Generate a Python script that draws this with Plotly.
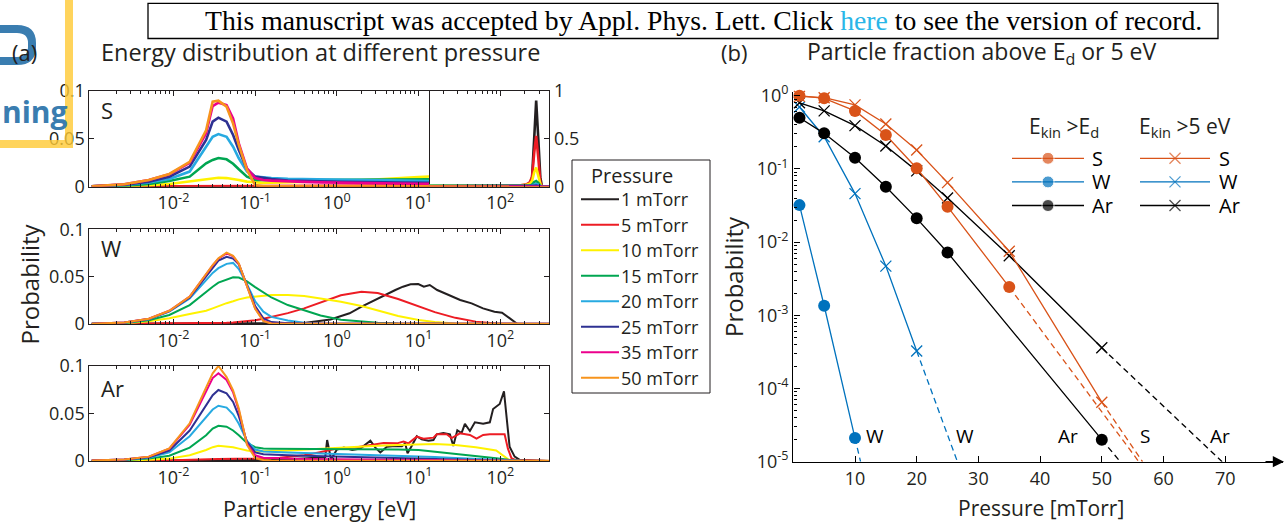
import plotly.graph_objects as go

W, H = 1287, 523
FONT = "Open Sans"
TXT = "#231F20"
AX = "#231F20"

# ---------------- (a) energy grid (eV) for the smooth curves ----------------
E_GRID = [0.001, 0.0025, 0.005, 0.0089, 0.0158, 0.0251, 0.0302, 0.0355, 0.0447, 0.0537,
          0.0631, 0.0794, 0.1, 0.126, 0.158, 0.251, 0.398, 0.631, 1.12, 2.0,
          3.16, 5.62, 10, 15.8, 28.2, 50.1, 89.1, 126, 158, 200, 400]

PRESSURES = ["1 mTorr", "5 mTorr", "10 mTorr", "15 mTorr", "20 mTorr", "25 mTorr", "35 mTorr", "50 mTorr"]
COLORS = ["#231F20", "#ED1C24", "#FFF200", "#00A651", "#27AAE1", "#2E3192", "#EC008C", "#F7941D"]

# S, low-energy part (y 0..0.1)
S_1 = [0, 0, 0, 0, 0, 0, 0, 0, 0, 0, 0, 0, 0, 0, 0, 0, 0, 0, 0, 0, 0, 0, 0.0002, 0.0003, 0.0003, 0.0003, 0.0003, 0.0003, 0.0003, 0.0003, 0.0003]
S_5 = [0.0002, 0.0003, 0.0005, 0.0006, 0.0008, 0.001, 0.001, 0.001, 0.001, 0.001, 0.001, 0.001, 0.001, 0.001, 0.001, 0.001, 0.001, 0.001, 0.0012, 0.0013, 0.0014, 0.0015, 0.0016, 0.0017, 0.0018, 0.0018, 0.0018, 0.0018, 0.0018, 0.0018, 0.0018]
S_10 = [0.0001, 0.0006, 0.0015, 0.0028, 0.0053, 0.0077, 0.0087, 0.0094, 0.009, 0.0081, 0.007, 0.0053, 0.0043, 0.004, 0.0042, 0.0045, 0.005, 0.0055, 0.006, 0.0068, 0.0075, 0.0085, 0.0100, 0.011, 0.011, 0.011, 0.012, 0.013, 0.015, 0.016, 0.016]
S_15 = [0.0003, 0.0011, 0.0028, 0.006, 0.0105, 0.0244, 0.028, 0.030, 0.0286, 0.024, 0.0182, 0.0105, 0.007, 0.0068, 0.0067, 0.0068, 0.007, 0.0072, 0.0075, 0.0078, 0.0082, 0.0086, 0.009, 0.0092, 0.009, 0.008, 0.007, 0.006, 0.006, 0.006, 0.006]
S_20 = [0.0004, 0.0018, 0.0043, 0.0081, 0.0158, 0.0418, 0.0522, 0.055, 0.0522, 0.0418, 0.0297, 0.0158, 0.0105, 0.0098, 0.009, 0.0082, 0.0078, 0.0074, 0.0072, 0.007, 0.007, 0.0069, 0.0068, 0.0068, 0.006, 0.005, 0.004, 0.004, 0.004, 0.004, 0.004]
S_25 = [0.0005, 0.0022, 0.0053, 0.0105, 0.021, 0.0488, 0.068, 0.0721, 0.068, 0.054, 0.0384, 0.0182, 0.0105, 0.009, 0.008, 0.0065, 0.0058, 0.0052, 0.005, 0.0048, 0.0046, 0.0045, 0.0044, 0.0044, 0.004, 0.003, 0.003, 0.003, 0.003, 0.003, 0.003]
S_35 = [0.0004, 0.0025, 0.007, 0.013, 0.025, 0.0558, 0.0843, 0.0878, 0.0854, 0.0714, 0.0453, 0.0192, 0.009, 0.007, 0.0064, 0.0055, 0.005, 0.0045, 0.004, 0.0038, 0.0035, 0.0033, 0.003, 0.003, 0.002, 0.002, 0.002, 0.002, 0.002, 0.002, 0.002]
S_50 = [0.0004, 0.0025, 0.007, 0.0133, 0.026, 0.059, 0.0888, 0.0899, 0.0836, 0.066, 0.0436, 0.0175, 0.0018, 0.0004, 0.0003, 0.0003, 0.0003, 0.0003, 0.0003, 0.0003, 0.0003, 0.0003, 0.0003, 0.0003, 0.0003, 0.0003, 0.0003, 0.0003, 0.0003, 0.0003, 0.0003]

# S, high-energy part (y 0..1)
E_S_HIGH = [12.6, 31.6, 79.4, 126, 178, 209, 229, 245, 260, 275, 292, 309, 324, 400]
SH_1 = [0.0005, 0.0005, 0.0008, 0.001, 0.002, 0.004, 0.01, 0.1, 0.5, 0.9, 0.5, 0.1, 0, 0]
SH_5 = [0.0018, 0.002, 0.004, 0.008, 0.015, 0.025, 0.045, 0.1, 0.35, 0.53, 0.3, 0.05, 0, 0]
SH_10 = [0.011, 0.011, 0.012, 0.013, 0.015, 0.02, 0.03, 0.06, 0.15, 0.2, 0.12, 0.03, 0, 0]
SH_15 = [0.009, 0.008, 0.007, 0.006, 0.006, 0.007, 0.01, 0.02, 0.05, 0.06, 0.04, 0.01, 0, 0]
SH_20 = [0.007, 0.006, 0.005, 0.004, 0.004, 0.005, 0.007, 0.012, 0.025, 0.03, 0.02, 0.005, 0, 0]
SH_25 = [0.0045, 0.004, 0.003, 0.003, 0.003, 0.003, 0.004, 0.006, 0.01, 0.012, 0.008, 0.002, 0, 0]
SH_35 = [0.003, 0.002, 0.002, 0.002, 0.002, 0.002, 0.002, 0.003, 0.005, 0.006, 0.004, 0.001, 0, 0]
SH_50 = [0.0003, 0.0003, 0.0003, 0.0003, 0.0003, 0.0003, 0.0003, 0.0003, 0.0003, 0.0003, 0.0003, 0.0003, 0, 0]

# W
E_W_1 = [0.001, 0.1, 0.394, 0.836, 1.43, 1.98, 3.38, 5.20, 6.44, 7.98, 9.91, 11.6, 13.7, 16.9, 23.4, 32.3, 44.6, 61.5, 84.9, 105, 131, 162, 400]
W_1 = [0.0002, 0.0004, 0.001, 0.0047, 0.0113, 0.018, 0.0282, 0.0359, 0.0394, 0.0419, 0.0422, 0.0394, 0.0412, 0.0359, 0.0306, 0.0253, 0.0218, 0.0165, 0.013, 0.012, 0.006, 0, 0]
W_5 = [0.0001, 0.0002, 0.0003, 0.0005, 0.0007, 0.0009, 0.001, 0.0011, 0.0012, 0.0017, 0.0022, 0.003, 0.004, 0.0055, 0.0075, 0.0115, 0.0165, 0.0228, 0.0303, 0.034, 0.0328, 0.0264, 0.019, 0.0125, 0.0065, 0.0025, 0.0006, 0.0002, 0, 0, 0]
W_10 = [0.0001, 0.0008, 0.0028, 0.006, 0.0105, 0.014, 0.0165, 0.019, 0.022, 0.024, 0.026, 0.028, 0.029, 0.030, 0.0305, 0.0306, 0.0295, 0.027, 0.0236, 0.019, 0.014, 0.0085, 0.0042, 0.002, 0.0006, 0.0002, 0, 0, 0, 0, 0]
W_15 = [0.0002, 0.001, 0.004, 0.0095, 0.020, 0.0342, 0.0394, 0.0437, 0.0472, 0.0493, 0.049, 0.045, 0.039, 0.033, 0.028, 0.020, 0.0148, 0.009, 0.0045, 0.0025, 0.0014, 0.0006, 0.0002, 0.0001, 0, 0, 0, 0, 0, 0, 0]
W_20 = [0.0003, 0.0013, 0.005, 0.013, 0.027, 0.047, 0.054, 0.059, 0.0635, 0.0645, 0.058, 0.042, 0.024, 0.013, 0.0075, 0.0036, 0.0014, 0.0005, 0.0003, 0.0003, 0.0003, 0.0003, 0.0003, 0.0003, 0.0003, 0.0003, 0.0003, 0.0003, 0.0003, 0.0003, 0.0003]
W_25 = [0.0003, 0.0015, 0.0053, 0.0135, 0.028, 0.051, 0.06, 0.067, 0.071, 0.069, 0.063, 0.041, 0.019, 0.006, 0.002, 0.0008, 0.0003, 0.0003, 0.0003, 0.0003, 0.0003, 0.0003, 0.0003, 0.0003, 0.0003, 0.0003, 0.0003, 0.0003, 0.0003, 0.0003, 0.0003]
W_35 = [0.0003, 0.0015, 0.0055, 0.014, 0.029, 0.053, 0.062, 0.069, 0.0745, 0.0715, 0.0635, 0.04, 0.0165, 0.0035, 0.0006, 0.0003, 0.0003, 0.0003, 0.0003, 0.0003, 0.0003, 0.0003, 0.0003, 0.0003, 0.0003, 0.0003, 0.0003, 0.0003, 0.0003, 0.0003, 0.0003]
W_50 = [0.0003, 0.0015, 0.0055, 0.014, 0.029, 0.0535, 0.0623, 0.0693, 0.0753, 0.072, 0.064, 0.04, 0.016, 0.003, 0.0005, 0.0003, 0.0003, 0.0003, 0.0003, 0.0003, 0.0003, 0.0003, 0.0003, 0.0003, 0.0003, 0.0003, 0.0003, 0.0003, 0.0003, 0.0003, 0.0003]

# Ar
E_AR_1 = [0.001, 0.01, 0.035, 0.1, 0.3, 0.6, 0.72, 0.76, 0.85, 1.0, 1.22, 1.54, 1.94, 2.57, 2.96, 3.40, 4.10, 5.19, 6.25, 6.86,
          7.33, 8.27, 9.51, 10.9, 13.2, 15.2, 16.7, 20.1, 24.2, 26.6, 29.8, 33.6, 36.9, 42.5, 48.9, 61.7, 74.5, 81.7, 98.4, 111,
          130, 150, 173, 400]
AR_1 = [0, 0.0002, 0.0005, 0.001, 0.002, 0.003, 0.004, 0.022, 0.0017, 0.012, 0.014, 0.0115, 0.013, 0.0213, 0.014, 0.009, 0.015, 0.0157, 0.0155, 0.0185,
        0.0081, 0.016, 0.026, 0.0227, 0.0213, 0.022, 0.028, 0.0294, 0.028, 0.0157, 0.0322, 0.0294, 0.039, 0.0315, 0.0406, 0.039, 0.0406, 0.0546, 0.0598, 0.0731,
        0.015, 0.0046, 0.0011, 0]
E_AR_5 = [0.001, 0.01, 0.035, 0.06, 0.1, 0.2, 0.4, 0.6, 0.8, 1.0, 1.61, 2.57, 3.73, 5.43, 6.55, 7.53, 9.51, 11.5, 15.2, 16.7,
          22.1, 25.4, 32.1, 42.5, 51.2, 61.7, 74.5, 113, 124, 137, 157, 400]
AR_5 = [0.0002, 0.0008, 0.002, 0.0022, 0.0025, 0.0035, 0.006, 0.009, 0.011, 0.013, 0.014, 0.0164, 0.019, 0.0185, 0.0203, 0.0185, 0.0255, 0.0234, 0.0245, 0.028,
        0.028, 0.024, 0.029, 0.0273, 0.0234, 0.0273, 0.028, 0.028, 0.013, 0.003, 0.0007, 0]
AR_10 = [0.0001, 0.0005, 0.0012, 0.0025, 0.006, 0.0115, 0.0145, 0.016, 0.0155, 0.0145, 0.013, 0.011, 0.01, 0.01, 0.0105, 0.011, 0.012, 0.013, 0.0145, 0.0155, 0.016, 0.0168, 0.0175, 0.0178, 0.0168, 0.0145, 0.011, 0.0015, 0, 0, 0]
AR_15 = [0.0003, 0.001, 0.0025, 0.0055, 0.014, 0.027, 0.034, 0.037, 0.036, 0.032, 0.027, 0.019, 0.0145, 0.013, 0.0128, 0.0127, 0.0127, 0.0128, 0.013, 0.0128, 0.0125, 0.012, 0.0115, 0.0098, 0.008, 0.0058, 0.0030, 0.0012, 0.0003, 0, 0]
AR_20 = [0.0004, 0.0013, 0.0035, 0.009, 0.026, 0.046, 0.054, 0.058, 0.056, 0.049, 0.039, 0.021, 0.012, 0.01, 0.0095, 0.009, 0.0085, 0.008, 0.0072, 0.0068, 0.0063, 0.0058, 0.005, 0.0042, 0.0032, 0.0022, 0.0011, 0.0004, 0.0001, 0, 0]
AR_25 = [0.0004, 0.0015, 0.004, 0.011, 0.032, 0.058, 0.069, 0.0745, 0.071, 0.062, 0.047, 0.020, 0.009, 0.007, 0.0065, 0.006, 0.0055, 0.005, 0.0045, 0.004, 0.0035, 0.003, 0.0025, 0.002, 0.0015, 0.001, 0.0005, 0.0002, 0, 0, 0]
AR_35 = [0.0004, 0.0017, 0.0046, 0.013, 0.038, 0.074, 0.087, 0.092, 0.085, 0.072, 0.053, 0.018, 0.006, 0.0035, 0.003, 0.0025, 0.0022, 0.002, 0.0019, 0.0017, 0.0015, 0.0013, 0.001, 0.0008, 0.0006, 0.0004, 0.0002, 0.0001, 0, 0, 0]
AR_50 = [0.0004, 0.0017, 0.0046, 0.0133, 0.0396, 0.078, 0.092, 0.0997, 0.088, 0.074, 0.055, 0.017, 0.003, 0.001, 0.0004, 0.0003, 0.0003, 0.0003, 0.0003, 0.0003, 0.0003, 0.0003, 0.0003, 0.0003, 0.0003, 0.0003, 0.0003, 0.0003, 0.0003, 0.0003, 0.0003]

# ---------------- (b) particle fraction vs pressure ----------------
P_S_ED = [1, 5, 10, 15, 20, 25, 35]
S_ED = [1.0, 0.92, 0.62, 0.29, 0.102, 0.0305, 0.00243]
P_S_5EV = [1, 5, 10, 15, 20, 25, 35, 50]
S_5EV = [0.98, 0.94, 0.75, 0.41, 0.181, 0.065, 0.0075, 6.5e-5]
P_W_ED = [1, 5, 10]
W_ED = [0.032, 0.00135, 2.1e-5]
P_W_5EV = [1, 5, 10, 15, 20]
W_5EV = [0.70, 0.275, 0.046, 0.0047, 3.25e-4]
P_AR_ED = [1, 5, 10, 15, 20, 25, 50]
AR_ED = [0.50, 0.306, 0.142, 0.057, 0.0211, 0.0072, 2.0e-5]
P_AR_5EV = [1, 5, 10, 15, 20, 25, 35, 50]
AR_5EV = [0.80, 0.62, 0.39, 0.205, 0.094, 0.040, 0.0065, 3.6e-4]

# dashed extrapolations (start point, end point at 1e-5)
EXT_W_ED_P, EXT_W_ED = [10, 10.9], [2.1e-5, 1e-5]
EXT_W_5EV_P, EXT_W_5EV = [20, 26.6], [3.25e-4, 1e-5]
EXT_AR_ED_P, EXT_AR_ED = [50, 53.0], [2.0e-5, 1e-5]
EXT_S_ED_P, EXT_S_ED = [35, 56.0], [0.00243, 1e-5]
EXT_S_5EV_P, EXT_S_5EV = [50, 56.6], [6.5e-5, 1e-5]
EXT_AR_5EV_P, EXT_AR_5EV = [50, 69.5], [3.6e-4, 1e-5]

END_LABELS = ["W", "W", "Ar", "S", "Ar"]
END_LABEL_P = [13.2, 27.8, 44.5, 57.0, 69.2]

C_S, C_W, C_AR = "#D95319", "#0072BD", "#000000"

# ---------------- helpers ----------------
def fx(p):
    return p / W


def fy(p):
    return 1 - p / H


fig = go.Figure()


def add_line(x, y, color, width, xa, ya, dash=None):
    fig.add_trace(go.Scatter(x=x, y=y, mode="lines", xaxis=xa, yaxis=ya,
                             line=dict(color=color, width=width, dash=dash),
                             showlegend=False, hoverinfo="skip"))


S_LOW = [S_1, S_5, S_10, S_15, S_20, S_25, S_35, S_50]
S_HIGH = [SH_1, SH_5, SH_10, SH_15, SH_20, SH_25, SH_35, SH_50]
W_SET = [(E_W_1, W_1), (E_GRID, W_5), (E_GRID, W_10), (E_GRID, W_15), (E_GRID, W_20), (E_GRID, W_25), (E_GRID, W_35), (E_GRID, W_50)]
AR_SET = [(E_AR_1, AR_1), (E_AR_5, AR_5), (E_GRID, AR_10), (E_GRID, AR_15), (E_GRID, AR_20), (E_GRID, AR_25), (E_GRID, AR_35), (E_GRID, AR_50)]

for i, c in enumerate(COLORS):
    add_line(E_GRID, S_LOW[i], c, 2.6, "x", "y")
for i, c in enumerate(COLORS):
    add_line(E_S_HIGH, S_HIGH[i], c, 2.6, "x2", "y2")
for i, c in enumerate(COLORS):
    add_line(W_SET[i][0], W_SET[i][1], c, 2, "x3", "y3")
for i, c in enumerate(COLORS):
    add_line(AR_SET[i][0], AR_SET[i][1], c, 2, "x4", "y4")


# (b) traces
def add_b(x, y, color, symbol):
    if symbol == "circle":
        mk = dict(symbol="circle", size=12, color=color)
    else:
        mk = dict(symbol="x-thin", size=11, line=dict(color=color, width=1.3), color=color)
    fig.add_trace(go.Scatter(x=x, y=y, mode="lines+markers", xaxis="x5", yaxis="y5",
                             line=dict(color=color, width=1.3), marker=mk, cliponaxis=False,
                             showlegend=False, hoverinfo="skip"))


for (x, y, c) in [(EXT_W_ED_P, EXT_W_ED, C_W), (EXT_W_5EV_P, EXT_W_5EV, C_W), (EXT_AR_ED_P, EXT_AR_ED, C_AR),
                  (EXT_S_ED_P, EXT_S_ED, C_S), (EXT_S_5EV_P, EXT_S_5EV, C_S), (EXT_AR_5EV_P, EXT_AR_5EV, C_AR)]:
    add_line(x, y, c, 1.3, "x5", "y5", dash="6px,4px")

add_b(P_W_5EV, W_5EV, C_W, "x")
add_b(P_AR_5EV, AR_5EV, C_AR, "x")
add_b(P_S_5EV, S_5EV, C_S, "x")
add_b(P_W_ED, W_ED, C_W, "circle")
add_b(P_AR_ED, AR_ED, C_AR, "circle")
add_b(P_S_ED, S_ED, C_S, "circle")

# ---------------- axes ----------------
MAJOR_E = [0.01, 0.1, 1, 10, 100]
MAJOR_TXT = ["10<sup>-2</sup>", "10<sup>-1</sup>", "10<sup>0</sup>", "10<sup>1</sup>", "10<sup>2</sup>"]
MINOR_E = [k * 10.0 ** d for d in range(-3, 3) for k in range(2, 10)]
LOGL, LOGR = -3.03, 2.60
LOGDIV = 1.128

X_L, X_DIV, X_R = 89.3, 429.0, 549.3
ROWS = [(91.0, 186.7), (229.3, 324.0), (365.7, 461.0)]
TICKFONT = dict(family=FONT, size=18, color=TXT)


def xax(dom, rng, anchor):
    return dict(type="log", domain=[fx(dom[0]), fx(dom[1])], range=rng, anchor=anchor, automargin=False,
                showline=True, linecolor=AX, linewidth=1, mirror="ticks",
                ticks="inside", ticklen=5, tickwidth=1, tickcolor=AX,
                tickmode="array", tickvals=MAJOR_E, ticktext=MAJOR_TXT, tickfont=TICKFONT,
                minor=dict(ticks="inside", ticklen=3, tickwidth=1, tickcolor=AX, tickmode="array", tickvals=MINOR_E),
                showgrid=False, zeroline=False)


def yax(row, anchor, mirror="ticks", side="left", rng=(0, 0.1), vals=(0, 0.05, 0.1), txt=("0", "0.05", "0.1")):
    return dict(domain=[fy(row[1]), fy(row[0])], range=list(rng), anchor=anchor, side=side, automargin=False,
                showline=True, linecolor=AX, linewidth=1, mirror=mirror,
                ticks="inside", ticklen=5, tickwidth=1, tickcolor=AX,
                tickmode="array", tickvals=list(vals), ticktext=list(txt), tickfont=TICKFONT,
                showgrid=False, zeroline=False)


B_X0, B_X1 = 793.3, 1283.0
B_Y0, B_Y1 = 92.0, 461.7
B_XMAX = (B_X1 - B_X0) / 6.17
B_MAJOR = [1e-5, 1e-4, 1e-3, 1e-2, 1e-1, 1]
B_MAJOR_TXT = ["10<sup>-5</sup>", "10<sup>-4</sup>", "10<sup>-3</sup>", "10<sup>-2</sup>", "10<sup>-1</sup>", "10<sup>0</sup>"]
B_MINOR = [k * 10.0 ** d for d in range(-5, 0) for k in range(2, 10)]

fig.update_layout(
    template="none",
    xaxis=xax((X_L, X_DIV), [LOGL, LOGDIV], "y"),
    yaxis=yax(ROWS[0], "x", mirror=True),
    xaxis2=xax((X_DIV, X_R), [LOGDIV, LOGR], "y2"),
    yaxis2=yax(ROWS[0], "x2", mirror=False, side="right", rng=(0, 1), vals=(0, 0.5, 1), txt=("0", "0.5", "1")),
    xaxis3=xax((X_L, X_R), [LOGL, LOGR], "y3"),
    yaxis3=yax(ROWS[1], "x3"),
    xaxis4=xax((X_L, X_R), [LOGL, LOGR], "y4"),
    yaxis4=yax(ROWS[2], "x4"),
    xaxis5=dict(domain=[fx(B_X0), fx(B_X1)], range=[0, B_XMAX], anchor="y5", automargin=False,
                showline=True, linecolor="#000000", linewidth=1.4, ticks="inside", ticklen=6, tickwidth=1,
                tickcolor="#000000", tickmode="array", tickvals=[10, 20, 30, 40, 50, 60, 70],
                tickfont=TICKFONT, showgrid=False, zeroline=False),
    yaxis5=dict(type="log", domain=[fy(B_Y1), fy(B_Y0)], range=[-5, (B_Y1 - B_Y0) / 73.2 - 5], anchor="x5",
                automargin=False,
                showline=True, linecolor="#000000", linewidth=1.4, ticks="inside", ticklen=6, tickwidth=1,
                tickcolor="#000000", tickmode="array", tickvals=B_MAJOR, ticktext=B_MAJOR_TXT,
                minor=dict(ticks="inside", ticklen=3.5, tickwidth=1, tickcolor="#000000", tickmode="array", tickvals=B_MINOR),
                tickfont=TICKFONT, showgrid=False, zeroline=False),
    xaxis6=dict(domain=[0, 1], range=[0, W], visible=False, anchor="y6", automargin=False),
    yaxis6=dict(domain=[0, 1], range=[H, 0], visible=False, anchor="x6", automargin=False),
    width=W, height=H, autosize=False,
    margin=dict(l=0, r=0, t=0, b=0, pad=0, autoexpand=False),
    paper_bgcolor="white", plot_bgcolor="rgba(0,0,0,0)",
    font=dict(family=FONT, color=TXT),
    showlegend=False,
)

ann = []
shapes = []


def text(x, y, s, size, anchor="center", angle=0, color=TXT, family=FONT):
    ann.append(dict(x=fx(x), y=fy(y), xref="paper", yref="paper", text=s, showarrow=False,
                    xanchor=anchor, yanchor="middle", textangle=angle,
                    font=dict(family=family, size=size, color=color)))


# banner
shapes.append(dict(type="rect", xref="paper", yref="paper", x0=fx(148), x1=fx(1218), y0=fy(38.5), y1=fy(3.3),
                   line=dict(color="#000000", width=1.3)))
text(203, 20.5, "This manuscript was accepted by Appl. Phys. Lett. Click <span style='color:#29B6E8'>here</span> to see the version of record.",
     27.7, anchor="left", family="Liberation Serif", color="#000000")

# publisher logo fragment at the left edge
shapes.append(dict(type="path", xref="paper", yref="paper",
                   path=f"M {fx(0)},{fy(29)} L {fx(17)},{fy(29)} Q {fx(32)},{fy(29)} {fx(32)},{fy(43)} L {fx(32)},{fy(47)} Q {fx(32)},{fy(61)} {fx(17)},{fy(61)} L {fx(0)},{fy(61)}",
                   line=dict(color="#3A7DB0", width=8)))
text(0, 111, "<b>ning</b>", 30, anchor="left", color="#3A7DB0")

# titles
text(24, 52, "(a)", 22)
text(99, 52, "Energy distribution at different pressure", 23.5, anchor="left")
text(734, 52, "(b)", 22)
text(982, 52, "Particle fraction above E<sub>d</sub> or 5 eV", 23)

# axis titles
text(28.5, 284, "Probability", 24, angle=-90)
text(319, 508, "Particle energy [eV]", 21.5)
text(733, 277, "Probability", 24, angle=-90)
text(1041, 508, "Pressure [mTorr]", 21)

# panel tags
text(99, 110, "S", 22, anchor="left")
text(99, 248, "W", 22, anchor="left")
text(99, 388, "Ar", 22, anchor="left")

# (b) end labels
for lab, p in zip(END_LABELS, END_LABEL_P):
    ann.append(dict(x=p, y=-4.65, xref="x5", yref="y5", text=lab, showarrow=False,
                    xanchor="center", yanchor="middle", font=dict(family=FONT, size=19, color="#000000")))

# x-axis arrow of (b)
ann.append(dict(x=fx(1284), y=fy(B_Y1), xref="paper", yref="paper", ax=-20, ay=0, text="",
                showarrow=True, arrowhead=2, arrowsize=1.6, arrowwidth=1.4, arrowcolor="#000000"))

# legend (a)
shapes.append(dict(type="rect", xref="paper", yref="paper", x0=fx(572), x1=fx(710), y0=fy(393), y1=fy(160),
                   line=dict(color=TXT, width=1)))
text(632, 175.5, "Pressure", 20)
for i, (lab, c) in enumerate(zip(PRESSURES, COLORS)):
    yy = 199.3 + i * 25.5
    shapes.append(dict(type="line", xref="paper", yref="paper", x0=fx(581), x1=fx(619), y0=fy(yy), y1=fy(yy),
                       line=dict(color=c, width=2)))
    text(619, yy, lab, 18, anchor="left")

# legend (b)
text(1064, 127, "E<sub>kin</sub> >E<sub>d</sub>", 21)
text(1185, 127, "E<sub>kin</sub> >5 eV", 21)
for j, (lab, c) in enumerate([("S", C_S), ("W", C_W), ("Ar", C_AR)]):
    yy = 158.3 + j * 23.6
    fig.add_trace(go.Scatter(x=[1012, 1048, 1084], y=[yy, yy, yy], xaxis="x6", yaxis="y6", mode="lines+markers",
                             line=dict(color=c, width=1.3), marker=dict(symbol="circle", size=[0, 12, 0], color=c),
                             showlegend=False, hoverinfo="skip"))
    fig.add_trace(go.Scatter(x=[1140, 1175, 1210], y=[yy, yy, yy], xaxis="x6", yaxis="y6", mode="lines+markers",
                             line=dict(color=c, width=1.3),
                             marker=dict(symbol="x-thin", size=[0, 11, 0], color=c, line=dict(color=c, width=1.3)),
                             showlegend=False, hoverinfo="skip"))
    text(1090, yy, lab, 20, anchor="left", color="#000000")
    text(1217, yy, lab, 20, anchor="left", color="#000000")

# yellow logo frame lines (semi-transparent)
shapes.append(dict(type="rect", xref="paper", yref="paper", x0=fx(65), x1=fx(73), y0=fy(148), y1=fy(0),
                   fillcolor="#FFC933", opacity=0.8, line=dict(width=0), layer="above"))
shapes.append(dict(type="rect", xref="paper", yref="paper", x0=fx(0), x1=fx(65), y0=fy(148), y1=fy(140),
                   fillcolor="#FFC933", opacity=0.8, line=dict(width=0), layer="above"))

fig.update_layout(annotations=ann, shapes=shapes)

PAGE_JS = (
    "document.documentElement.style.margin='0';document.documentElement.style.overflow='hidden';"
    "document.body.style.margin='0';document.body.style.overflow='hidden';"
    "var gd=document.getElementById('{plot_id}');gd.style.position='fixed';gd.style.left='0px';gd.style.top='0px';"
)
fig.write_html("out.html", config={"displayModeBar": False}, post_script=PAGE_JS)
